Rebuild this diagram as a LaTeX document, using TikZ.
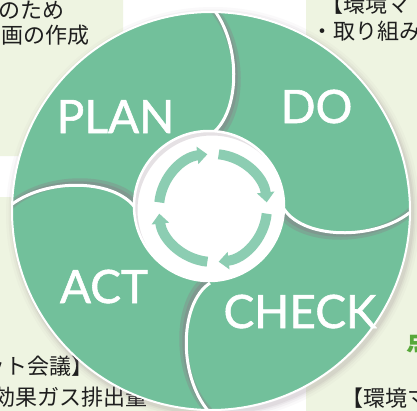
\documentclass[tikz,border=0pt]{standalone}
\usepackage{fontspec}
\setmainfont{Lato}
\newfontfamily\jp{Noto Sans CJK JP}
\newfontfamily\lato{Lato}[FakeBold=1.2]
\usetikzlibrary{arrows.meta}
\definecolor{ringgreen}{RGB}{114,192,155}
\definecolor{arrowgreen}{RGB}{140,205,178}
\definecolor{paleback}{RGB}{238,244,225}
\definecolor{shadecol}{RGB}{140,120,135}
\definecolor{labgreen}{RGB}{88,168,58}
\definecolor{jptextcol}{RGB}{30,30,30}
\tikzset{
  lab/.style={font=\lato\fontsize{46}{46}\selectfont, text=white, anchor=base, inner sep=0pt},
  jptext/.style={font=\jp\fontsize{22}{22}\selectfont, text=jptextcol, inner sep=0pt},
  sepshadow/.style={shadecol, opacity=0.3, line width=8pt},
  sepshadowcore/.style={shadecol, opacity=0.35, line width=4pt},
  sepline/.style={white, line width=3pt},
  cyclearrow/.style={arrowgreen, line width=10pt, -{Triangle[width=17pt,length=10pt]}},
}
\begin{document}
\begin{tikzpicture}[x=1pt,y=-1pt]
\useasboundingbox (0,0) rectangle (417,410);
\fill[white] (0,0) rectangle (417,410);
% background boxes
\fill[paleback, rounded corners=18pt] (-20,-20) rectangle (123,156);
\fill[paleback, rounded corners=18pt] (-20,197) rectangle (200,430);
\fill[paleback, rounded corners=18pt] (306,-20) rectangle (440,430);
% texts around
\node[jptext, anchor=base east] (tl1) at (65,18.5) {のため};
\node[jptext, anchor=base east] (tl2) at (89.5,43.5) {画の作成};
\node[jptext, anchor=base west] (tr1) at (321,12) {【環境マ};
\node[jptext, anchor=base west] (tr2) at (311,39.5) {・取り組み};
\node[jptext, anchor=base east] (bl1) at (94,374) {ット会議】};
\node[jptext, anchor=base east] (bl2) at (148,405) {効果ガス排出量};
\node[jptext, anchor=base west] (br1) at (341,406) {【環境マ};
\node[font=\jp\bfseries\fontsize{27}{27}\selectfont, text=labgreen, inner sep=0pt, anchor=base west] (br0) at (406,350) {点};
% outer shadow
\foreach \w/\o in {16/0.04, 11/0.06, 7/0.08, 4/0.1}
  \draw[shadecol, opacity=\o, line width=\w pt] (213,214) circle (199);
% ring
\fill[ringgreen, even odd rule] (211,211) circle (199) (209,206) circle (75);
% separators
\begin{scope}
\clip (211,211) circle (199);
\begin{scope}[shift={(210,209)}]
  \foreach \ang in {0,90,180,270}{
    \begin{scope}[rotate=\ang]
      \draw[sepshadow, shift={(3,4)}] (-2,-206) .. controls (32,-172) and (32,-95) .. (0,-74);
      \draw[sepshadowcore, shift={(2,3)}] (-2,-206) .. controls (32,-172) and (32,-95) .. (0,-74);
    \end{scope}
  }
  \foreach \ang in {0,90,180,270}{
    \begin{scope}[rotate=\ang]
      \draw[sepline] (-2,-206) .. controls (32,-172) and (32,-95) .. (0,-74);
    \end{scope}
  }
\end{scope}
\end{scope}
\draw[white, line width=2pt] (211,211) circle (199);
% inner hole
\fill[white] (209,206) circle (75);
\begin{scope}
\clip (209,206) circle (75);
\draw[shadecol, opacity=0.22, line width=7pt] (212,210) circle (78);
\end{scope}
\draw[white, line width=2.5pt] (209,206) circle (75);
% cycle arrows
\coordinate (ac) at (213,208);
\draw[cyclearrow] ([shift={(186:54)}]ac) arc[start angle=186, end angle=264, radius=54];
\draw[cyclearrow] ([shift={(276:54)}]ac) arc[start angle=276, end angle=354, radius=54];
\draw[cyclearrow] ([shift={(6:54)}]ac) arc[start angle=6, end angle=84, radius=54];
\draw[cyclearrow] ([shift={(96:54)}]ac) arc[start angle=96, end angle=174, radius=54];
% labels
\node[lab] (plan) at (115.5,133) {PLAN};
\node[lab] (do) at (316.5,123) {DO};
\node[lab] (act) at (104,303) {ACT};
\node[lab] (check) at (300,328) {CHECK};
\end{tikzpicture}
\end{document}
